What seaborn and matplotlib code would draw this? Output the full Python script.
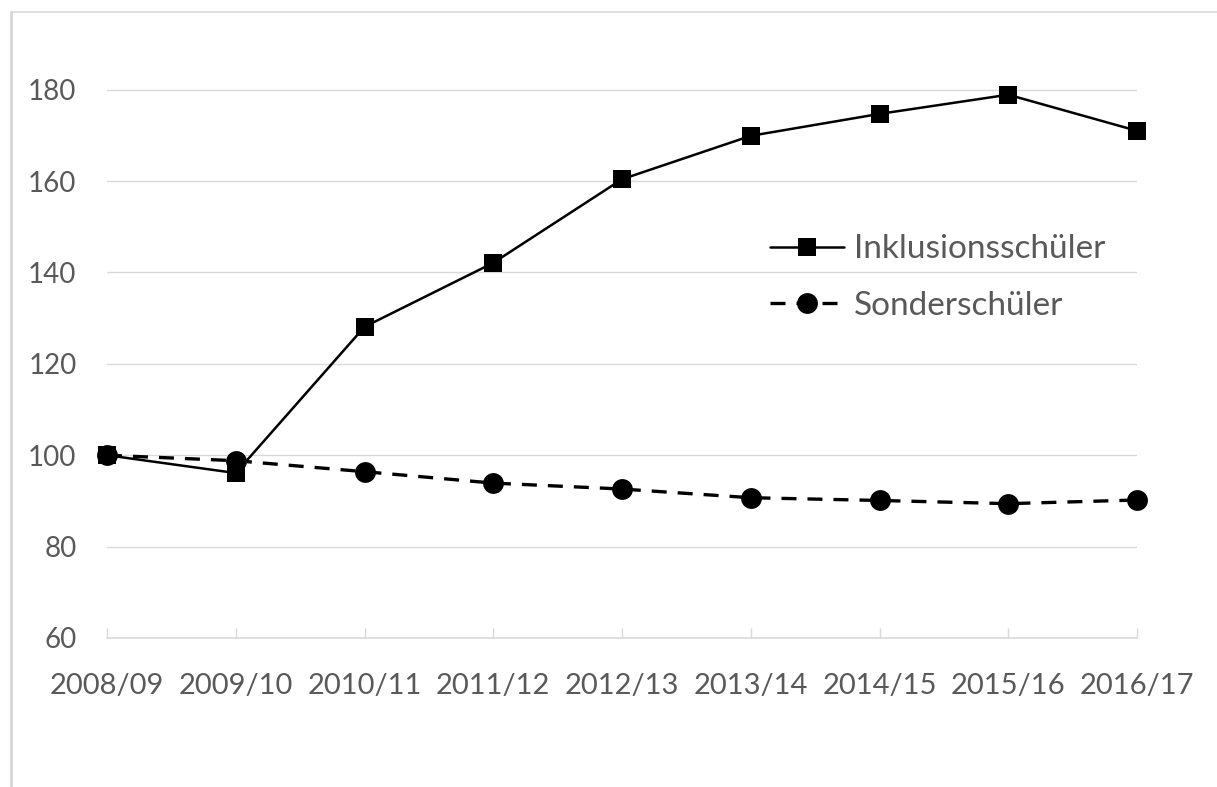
import pandas as pd
import matplotlib
matplotlib.use('Agg')
from matplotlib import pyplot as plt
from matplotlib.lines import Line2D
import seaborn as sns

sns.set_style('white')
plt.rcParams['font.family'] = ['Lato', 'DejaVu Sans']

# Daten
jahre = ['2008/09', '2009/10', '2010/11', '2011/12', '2012/13',
         '2013/14', '2014/15', '2015/16', '2016/17']
inklusion = [100, 96.1, 128.1, 142.1, 160.4, 169.9, 174.7, 178.9, 171.0]
sonder = [100, 98.8, 96.4, 93.9, 92.6, 90.7, 90.1, 89.4, 90.2]
y_ticks = [60, 80, 100, 120, 140, 160, 180]

df = pd.DataFrame({'x': range(len(jahre)), 'Inklusionsschüler': inklusion,
                   'Sonderschüler': sonder})

fig = plt.figure(figsize=(12.17, 7.87), dpi=100)
ax = fig.add_axes([107 / 1217, 1 - 638 / 787, (1137 - 107) / 1217, (638 - 12) / 787])

grau = '#d9d9d9'
text_grau = '#595959'

sns.lineplot(data=df, x='x', y='Inklusionsschüler', ax=ax, color='black',
             linewidth=1.8, marker='s', markersize=12.5, markeredgewidth=0,
             label='Inklusionsschüler', zorder=3, clip_on=False)
sns.lineplot(data=df, x='x', y='Sonderschüler', ax=ax, color='black',
             linewidth=2.4, linestyle=(0, (4.5, 3.3)), marker='o', markersize=15,
             markeredgewidth=0, label='Sonderschüler', zorder=4, clip_on=False)

ax.set_xlim(0, 8)
ax.set_ylim(60, 197)
ax.set_yticks(y_ticks)
ax.set_xticks(range(len(jahre)))
ax.set_xticklabels(jahre)
ax.set_xlabel('')
ax.set_ylabel('')

ax.yaxis.grid(True, color=grau, linewidth=1)
ax.xaxis.grid(False)
for s in ['top', 'right', 'left']:
    ax.spines[s].set_visible(False)
ax.spines['bottom'].set_color(grau)
ax.spines['bottom'].set_linewidth(1.2)

ax.tick_params(axis='x', bottom=True, direction='in', length=7, width=1, color=grau,
               pad=25, labelsize=21, labelcolor=text_grau)
ax.tick_params(axis='y', left=False, length=0, pad=22, labelsize=20, labelcolor=text_grau)
ax.set_axisbelow(True)

leg = ax.legend(loc='upper left', bbox_to_anchor=(650 / 1030, (638 - 221) / 626),
                frameon=False, fontsize=24, handlelength=2.2, handletextpad=0.3,
                labelspacing=0.8, borderaxespad=0)
for t in leg.get_texts():
    t.set_color(text_grau)

# Rahmen des Diagrammbereichs
fig.add_artist(Line2D([11 / 1217, 11 / 1217], [0, 1 - 12 / 787], color=grau, linewidth=2.2,
                      transform=fig.transFigure))
fig.add_artist(Line2D([11 / 1217, 1], [1 - 12 / 787, 1 - 12 / 787], color=grau, linewidth=1.2,
                      transform=fig.transFigure))

plt.savefig('out.png', dpi=100)
